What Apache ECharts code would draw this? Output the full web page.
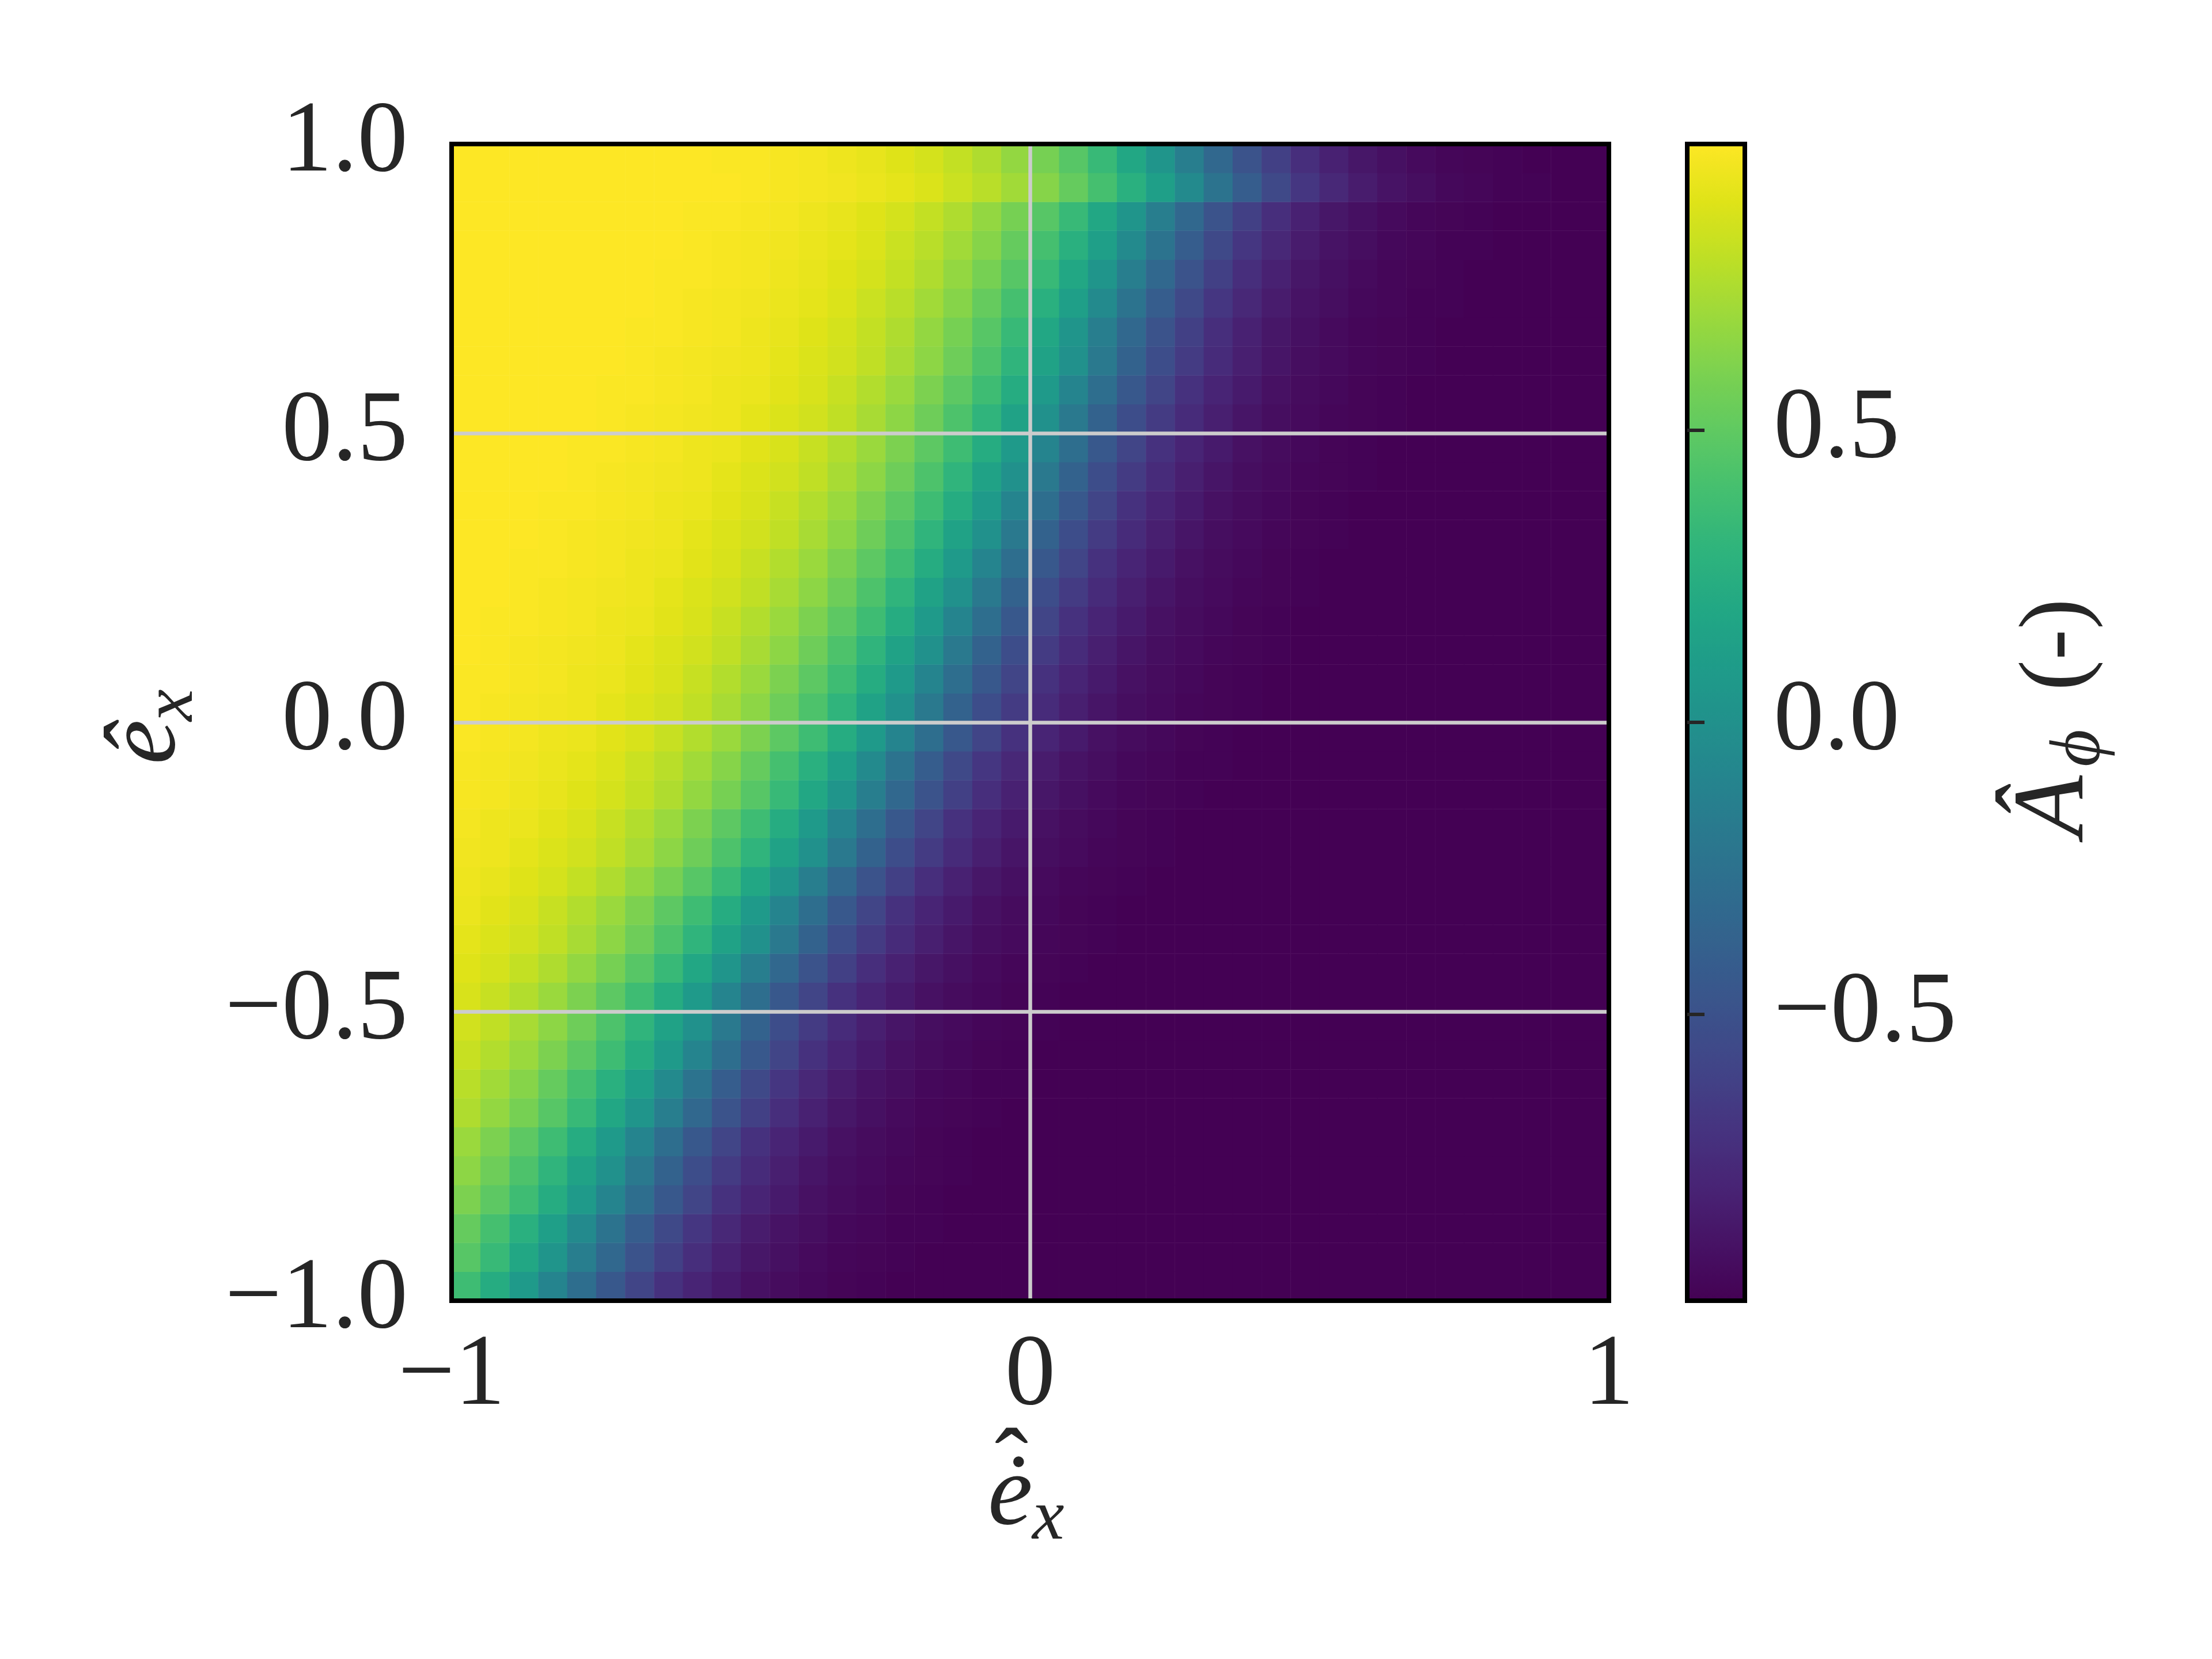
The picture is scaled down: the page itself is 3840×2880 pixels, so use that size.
<!DOCTYPE html>
<html>
<head>
<meta charset="utf-8">
<title>A_phi map</title>
<script src="https://cdn.jsdelivr.net/npm/echarts@6.0.0/dist/echarts.min.js"></script>
<style>
  html, body { margin: 0; padding: 0; background: #ffffff; }
  #chart { width: 3840px; height: 2880px; }
</style>
</head>
<body>
<div id="chart"></div>
<script>
// cell centres of the map (x = e_x dot, y = e_x), 40 x 40 cells of 0.05
const xCells = [-0.975,-0.925,-0.875,-0.825,-0.775,-0.725,-0.675,-0.625,-0.575,-0.525,-0.475,-0.425,-0.375,-0.325,-0.275,-0.225,-0.175,-0.125,-0.075,-0.025,
  0.025,0.075,0.125,0.175,0.225,0.275,0.325,0.375,0.425,0.475,0.525,0.575,0.625,0.675,0.725,0.775,0.825,0.875,0.925,0.975]
const yCells = [-0.975,-0.925,-0.875,-0.825,-0.775,-0.725,-0.675,-0.625,-0.575,-0.525,-0.475,-0.425,-0.375,-0.325,-0.275,-0.225,-0.175,-0.125,-0.075,-0.025,
  0.025,0.075,0.125,0.175,0.225,0.275,0.325,0.375,0.425,0.475,0.525,0.575,0.625,0.675,0.725,0.775,0.825,0.875,0.925,0.975]

// A_phi, one row per yCells entry (bottom row first), one value per xCells entry
const aPhi = [
  [0.37,0.23,0.08,-0.10,-0.28,-0.45,-0.59,-0.71,-0.79,-0.85,-0.90,-0.93,-0.95,-0.97,-0.98,-0.99,-0.99,-0.99,-0.99,-0.99,-0.99,-0.99,-0.99,-0.99,-0.99,-0.99,-0.99,-0.99,-0.99,-0.99,-0.99,-0.99,-0.99,-0.99,-0.99,-0.99,-0.99,-0.99,-0.99,-0.99],
  [0.47,0.34,0.19,0.04,-0.15,-0.33,-0.49,-0.62,-0.73,-0.81,-0.87,-0.91,-0.94,-0.96,-0.97,-0.98,-0.99,-0.99,-0.99,-0.99,-0.99,-0.99,-0.99,-0.99,-0.99,-0.99,-0.99,-0.99,-0.99,-0.99,-0.99,-0.99,-0.99,-0.99,-0.99,-0.99,-0.99,-0.99,-0.99,-0.99],
  [0.52,0.40,0.26,0.12,-0.05,-0.24,-0.41,-0.56,-0.68,-0.77,-0.84,-0.89,-0.92,-0.95,-0.96,-0.98,-0.98,-0.99,-0.99,-0.99,-0.99,-0.99,-0.99,-0.99,-0.99,-0.99,-0.99,-0.99,-0.99,-0.99,-0.99,-0.99,-0.99,-0.99,-0.99,-0.99,-0.99,-0.99,-0.99,-0.99],
  [0.60,0.49,0.37,0.23,0.08,-0.10,-0.28,-0.45,-0.59,-0.71,-0.79,-0.85,-0.90,-0.93,-0.95,-0.97,-0.98,-0.99,-0.99,-0.99,-0.99,-0.99,-0.99,-0.99,-0.99,-0.99,-0.99,-0.99,-0.99,-0.99,-0.99,-0.99,-0.99,-0.99,-0.99,-0.99,-0.99,-0.99,-0.99,-0.99],
  [0.65,0.55,0.43,0.30,0.15,0.00,-0.19,-0.37,-0.53,-0.65,-0.75,-0.82,-0.88,-0.92,-0.94,-0.96,-0.97,-0.98,-0.99,-0.99,-0.99,-0.99,-0.99,-0.99,-0.99,-0.99,-0.99,-0.99,-0.99,-0.99,-0.99,-0.99,-0.99,-0.99,-0.99,-0.99,-0.99,-0.99,-0.99,-0.99],
  [0.69,0.60,0.49,0.37,0.23,0.08,-0.10,-0.28,-0.45,-0.59,-0.71,-0.79,-0.85,-0.90,-0.93,-0.95,-0.97,-0.98,-0.99,-0.99,-0.99,-0.99,-0.99,-0.99,-0.99,-0.99,-0.99,-0.99,-0.99,-0.99,-0.99,-0.99,-0.99,-0.99,-0.99,-0.99,-0.99,-0.99,-0.99,-0.99],
  [0.75,0.67,0.58,0.47,0.34,0.19,0.04,-0.15,-0.33,-0.49,-0.62,-0.73,-0.81,-0.87,-0.91,-0.94,-0.96,-0.97,-0.98,-0.99,-0.99,-0.99,-0.99,-0.99,-0.99,-0.99,-0.99,-0.99,-0.99,-0.99,-0.99,-0.99,-0.99,-0.99,-0.99,-0.99,-0.99,-0.99,-0.99,-0.99],
  [0.78,0.71,0.63,0.52,0.40,0.26,0.12,-0.05,-0.24,-0.41,-0.56,-0.68,-0.77,-0.84,-0.89,-0.92,-0.95,-0.96,-0.98,-0.98,-0.99,-0.99,-0.99,-0.99,-0.99,-0.99,-0.99,-0.99,-0.99,-0.99,-0.99,-0.99,-0.99,-0.99,-0.99,-0.99,-0.99,-0.99,-0.99,-0.99],
  [0.82,0.76,0.69,0.60,0.49,0.37,0.23,0.08,-0.10,-0.28,-0.45,-0.59,-0.71,-0.79,-0.85,-0.90,-0.93,-0.95,-0.97,-0.98,-0.99,-0.99,-0.99,-0.99,-0.99,-0.99,-0.99,-0.99,-0.99,-0.99,-0.99,-0.99,-0.99,-0.99,-0.99,-0.99,-0.99,-0.99,-0.99,-0.99],
  [0.85,0.80,0.73,0.65,0.55,0.43,0.30,0.15,0.00,-0.19,-0.37,-0.53,-0.65,-0.75,-0.82,-0.88,-0.92,-0.94,-0.96,-0.97,-0.98,-0.99,-0.99,-0.99,-0.99,-0.99,-0.99,-0.99,-0.99,-0.99,-0.99,-0.99,-0.99,-0.99,-0.99,-0.99,-0.99,-0.99,-0.99,-0.99],
  [0.87,0.82,0.76,0.69,0.60,0.49,0.37,0.23,0.08,-0.10,-0.28,-0.45,-0.59,-0.71,-0.79,-0.85,-0.90,-0.93,-0.95,-0.97,-0.98,-0.99,-0.99,-0.99,-0.99,-0.99,-0.99,-0.99,-0.99,-0.99,-0.99,-0.99,-0.99,-0.99,-0.99,-0.99,-0.99,-0.99,-0.99,-0.99],
  [0.89,0.86,0.81,0.75,0.67,0.58,0.47,0.34,0.19,0.04,-0.15,-0.33,-0.49,-0.62,-0.73,-0.81,-0.87,-0.91,-0.94,-0.96,-0.97,-0.98,-0.99,-0.99,-0.99,-0.99,-0.99,-0.99,-0.99,-0.99,-0.99,-0.99,-0.99,-0.99,-0.99,-0.99,-0.99,-0.99,-0.99,-0.99],
  [0.91,0.88,0.85,0.80,0.73,0.65,0.55,0.43,0.30,0.15,0.00,-0.19,-0.37,-0.53,-0.65,-0.75,-0.82,-0.88,-0.92,-0.94,-0.96,-0.97,-0.98,-0.99,-0.99,-0.99,-0.99,-0.99,-0.99,-0.99,-0.99,-0.99,-0.99,-0.99,-0.99,-0.99,-0.99,-0.99,-0.99,-0.99],
  [0.93,0.90,0.87,0.82,0.76,0.69,0.60,0.49,0.37,0.23,0.08,-0.10,-0.28,-0.45,-0.59,-0.71,-0.79,-0.85,-0.90,-0.93,-0.95,-0.97,-0.98,-0.99,-0.99,-0.99,-0.99,-0.99,-0.99,-0.99,-0.99,-0.99,-0.99,-0.99,-0.99,-0.99,-0.99,-0.99,-0.99,-0.99],
  [0.94,0.92,0.89,0.86,0.81,0.75,0.67,0.58,0.47,0.34,0.19,0.04,-0.15,-0.33,-0.49,-0.62,-0.73,-0.81,-0.87,-0.91,-0.94,-0.96,-0.97,-0.98,-0.99,-0.99,-0.99,-0.99,-0.99,-0.99,-0.99,-0.99,-0.99,-0.99,-0.99,-0.99,-0.99,-0.99,-0.99,-0.99],
  [0.95,0.94,0.91,0.88,0.85,0.80,0.73,0.65,0.55,0.43,0.30,0.15,0.00,-0.19,-0.37,-0.53,-0.65,-0.75,-0.82,-0.88,-0.92,-0.94,-0.96,-0.97,-0.98,-0.99,-0.99,-0.99,-0.99,-0.99,-0.99,-0.99,-0.99,-0.99,-0.99,-0.99,-0.99,-0.99,-0.99,-0.99],
  [0.96,0.94,0.93,0.90,0.87,0.82,0.76,0.69,0.60,0.49,0.37,0.23,0.08,-0.10,-0.28,-0.45,-0.59,-0.71,-0.79,-0.85,-0.90,-0.93,-0.95,-0.97,-0.98,-0.99,-0.99,-0.99,-0.99,-0.99,-0.99,-0.99,-0.99,-0.99,-0.99,-0.99,-0.99,-0.99,-0.99,-0.99],
  [0.97,0.96,0.94,0.92,0.89,0.86,0.81,0.75,0.67,0.58,0.47,0.34,0.19,0.04,-0.15,-0.33,-0.49,-0.62,-0.73,-0.81,-0.87,-0.91,-0.94,-0.96,-0.97,-0.98,-0.99,-0.99,-0.99,-0.99,-0.99,-0.99,-0.99,-0.99,-0.99,-0.99,-0.99,-0.99,-0.99,-0.99],
  [0.97,0.96,0.95,0.93,0.91,0.88,0.83,0.78,0.71,0.63,0.52,0.40,0.26,0.12,-0.05,-0.24,-0.41,-0.56,-0.68,-0.77,-0.84,-0.89,-0.92,-0.95,-0.96,-0.98,-0.98,-0.99,-0.99,-0.99,-0.99,-0.99,-0.99,-0.99,-0.99,-0.99,-0.99,-0.99,-0.99,-0.99],
  [0.98,0.97,0.96,0.94,0.93,0.90,0.87,0.82,0.76,0.69,0.60,0.49,0.37,0.23,0.08,-0.10,-0.28,-0.45,-0.59,-0.71,-0.79,-0.85,-0.90,-0.93,-0.95,-0.97,-0.98,-0.99,-0.99,-0.99,-0.99,-0.99,-0.99,-0.99,-0.99,-0.99,-0.99,-0.99,-0.99,-0.99],
  [0.98,0.97,0.96,0.95,0.94,0.91,0.88,0.85,0.80,0.73,0.65,0.55,0.43,0.30,0.15,0.00,-0.19,-0.37,-0.53,-0.65,-0.75,-0.82,-0.88,-0.92,-0.94,-0.96,-0.97,-0.98,-0.99,-0.99,-0.99,-0.99,-0.99,-0.99,-0.99,-0.99,-0.99,-0.99,-0.99,-0.99],
  [0.98,0.98,0.97,0.96,0.94,0.93,0.90,0.87,0.82,0.76,0.69,0.60,0.49,0.37,0.23,0.08,-0.10,-0.28,-0.45,-0.59,-0.71,-0.79,-0.85,-0.90,-0.93,-0.95,-0.97,-0.98,-0.99,-0.99,-0.99,-0.99,-0.99,-0.99,-0.99,-0.99,-0.99,-0.99,-0.99,-0.99],
  [0.99,0.98,0.97,0.96,0.95,0.94,0.91,0.88,0.85,0.80,0.73,0.65,0.55,0.43,0.30,0.15,0.00,-0.19,-0.37,-0.53,-0.65,-0.75,-0.82,-0.88,-0.92,-0.94,-0.96,-0.97,-0.98,-0.99,-0.99,-0.99,-0.99,-0.99,-0.99,-0.99,-0.99,-0.99,-0.99,-0.99],
  [0.99,0.98,0.98,0.97,0.96,0.94,0.93,0.90,0.87,0.82,0.76,0.69,0.60,0.49,0.37,0.23,0.08,-0.10,-0.28,-0.45,-0.59,-0.71,-0.79,-0.85,-0.90,-0.93,-0.95,-0.97,-0.98,-0.99,-0.99,-0.99,-0.99,-0.99,-0.99,-0.99,-0.99,-0.99,-0.99,-0.99],
  [0.99,0.99,0.98,0.97,0.96,0.95,0.94,0.91,0.88,0.85,0.80,0.73,0.65,0.55,0.43,0.30,0.15,0.00,-0.19,-0.37,-0.53,-0.65,-0.75,-0.82,-0.88,-0.92,-0.94,-0.96,-0.97,-0.98,-0.99,-0.99,-0.99,-0.99,-0.99,-0.99,-0.99,-0.99,-0.99,-0.99],
  [0.99,0.99,0.98,0.98,0.97,0.96,0.94,0.93,0.90,0.87,0.82,0.76,0.69,0.60,0.49,0.37,0.23,0.08,-0.10,-0.28,-0.45,-0.59,-0.71,-0.79,-0.85,-0.90,-0.93,-0.95,-0.97,-0.98,-0.99,-0.99,-0.99,-0.99,-0.99,-0.99,-0.99,-0.99,-0.99,-0.99],
  [0.99,0.99,0.99,0.98,0.97,0.96,0.95,0.94,0.91,0.88,0.85,0.80,0.73,0.65,0.55,0.43,0.30,0.15,0.00,-0.19,-0.37,-0.53,-0.65,-0.75,-0.82,-0.88,-0.92,-0.94,-0.96,-0.97,-0.98,-0.99,-0.99,-0.99,-0.99,-0.99,-0.99,-0.99,-0.99,-0.99],
  [0.99,0.99,0.99,0.98,0.98,0.97,0.96,0.94,0.93,0.90,0.87,0.82,0.76,0.69,0.60,0.49,0.37,0.23,0.08,-0.10,-0.28,-0.45,-0.59,-0.71,-0.79,-0.85,-0.90,-0.93,-0.95,-0.97,-0.98,-0.99,-0.99,-0.99,-0.99,-0.99,-0.99,-0.99,-0.99,-0.99],
  [0.99,0.99,0.99,0.99,0.98,0.97,0.96,0.95,0.94,0.91,0.88,0.85,0.80,0.73,0.65,0.55,0.43,0.30,0.15,0.00,-0.19,-0.37,-0.53,-0.65,-0.75,-0.82,-0.88,-0.92,-0.94,-0.96,-0.97,-0.98,-0.99,-0.99,-0.99,-0.99,-0.99,-0.99,-0.99,-0.99],
  [0.99,0.99,0.99,0.99,0.98,0.98,0.97,0.96,0.94,0.93,0.90,0.87,0.82,0.76,0.69,0.60,0.49,0.37,0.23,0.08,-0.10,-0.28,-0.45,-0.59,-0.71,-0.79,-0.85,-0.90,-0.93,-0.95,-0.97,-0.98,-0.99,-0.99,-0.99,-0.99,-0.99,-0.99,-0.99,-0.99],
  [0.99,0.99,0.99,0.99,0.99,0.98,0.97,0.96,0.95,0.94,0.91,0.88,0.85,0.80,0.73,0.65,0.55,0.43,0.30,0.15,0.00,-0.19,-0.37,-0.53,-0.65,-0.75,-0.82,-0.88,-0.92,-0.94,-0.96,-0.97,-0.98,-0.99,-0.99,-0.99,-0.99,-0.99,-0.99,-0.99],
  [0.99,0.99,0.99,0.99,0.99,0.98,0.98,0.97,0.96,0.94,0.93,0.90,0.87,0.82,0.76,0.69,0.60,0.49,0.37,0.23,0.08,-0.10,-0.28,-0.45,-0.59,-0.71,-0.79,-0.85,-0.90,-0.93,-0.95,-0.97,-0.98,-0.99,-0.99,-0.99,-0.99,-0.99,-0.99,-0.99],
  [0.99,0.99,0.99,0.99,0.99,0.99,0.98,0.97,0.96,0.95,0.94,0.91,0.88,0.85,0.80,0.73,0.65,0.55,0.43,0.30,0.15,0.00,-0.19,-0.37,-0.53,-0.65,-0.75,-0.82,-0.88,-0.92,-0.94,-0.96,-0.97,-0.98,-0.99,-0.99,-0.99,-0.99,-0.99,-0.99],
  [0.99,0.99,0.99,0.99,0.99,0.99,0.98,0.98,0.97,0.96,0.94,0.92,0.89,0.86,0.81,0.75,0.67,0.58,0.47,0.34,0.19,0.04,-0.15,-0.33,-0.49,-0.62,-0.73,-0.81,-0.87,-0.91,-0.94,-0.96,-0.97,-0.98,-0.99,-0.99,-0.99,-0.99,-0.99,-0.99],
  [0.99,0.99,0.99,0.99,0.99,0.99,0.99,0.98,0.97,0.96,0.95,0.93,0.91,0.88,0.83,0.78,0.71,0.63,0.52,0.40,0.26,0.12,-0.05,-0.24,-0.41,-0.56,-0.68,-0.77,-0.84,-0.89,-0.92,-0.95,-0.96,-0.98,-0.98,-0.99,-0.99,-0.99,-0.99,-0.99],
  [0.99,0.99,0.99,0.99,0.99,0.99,0.99,0.98,0.98,0.97,0.96,0.94,0.92,0.89,0.86,0.81,0.75,0.67,0.58,0.47,0.34,0.19,0.04,-0.15,-0.33,-0.49,-0.62,-0.73,-0.81,-0.87,-0.91,-0.94,-0.96,-0.97,-0.98,-0.99,-0.99,-0.99,-0.99,-0.99],
  [0.99,0.99,0.99,0.99,0.99,0.99,0.99,0.99,0.98,0.97,0.96,0.95,0.93,0.91,0.88,0.83,0.78,0.71,0.63,0.52,0.40,0.26,0.12,-0.05,-0.24,-0.41,-0.56,-0.68,-0.77,-0.84,-0.89,-0.92,-0.95,-0.96,-0.98,-0.98,-0.99,-0.99,-0.99,-0.99],
  [0.99,0.99,0.99,0.99,0.99,0.99,0.99,0.99,0.98,0.98,0.97,0.96,0.94,0.92,0.89,0.86,0.81,0.75,0.67,0.58,0.47,0.34,0.19,0.04,-0.15,-0.33,-0.49,-0.62,-0.73,-0.81,-0.87,-0.91,-0.94,-0.96,-0.97,-0.98,-0.99,-0.99,-0.99,-0.99],
  [0.99,0.99,0.99,0.99,0.99,0.99,0.99,0.99,0.99,0.99,0.98,0.97,0.96,0.95,0.93,0.91,0.88,0.83,0.78,0.71,0.63,0.52,0.40,0.26,0.12,-0.05,-0.24,-0.41,-0.56,-0.68,-0.77,-0.84,-0.89,-0.92,-0.95,-0.96,-0.98,-0.98,-0.99,-0.99],
  [0.99,0.99,0.99,0.99,0.99,0.99,0.99,0.99,0.99,0.98,0.98,0.97,0.96,0.94,0.92,0.89,0.86,0.81,0.75,0.67,0.58,0.47,0.34,0.19,0.04,-0.15,-0.33,-0.49,-0.62,-0.73,-0.81,-0.87,-0.91,-0.94,-0.96,-0.97,-0.98,-0.99,-0.99,-0.99]
]

const xTickValues = [-1, 0, 1]
const xTickLabels = ['\u22121', '0', '1']
const yTickValues = [-1, -0.5, 0, 0.5, 1]
const yTickLabels = ['\u22121.0', '\u22120.5', '0.0', '0.5', '1.0']
const cbTickValues = [-0.5, 0, 0.5]
const cbTickLabels = ['\u22120.5', '0.0', '0.5']
const cbMin = -0.99
const cbMax = 0.99

const viridis = ['#440154','#471365','#482475','#463480','#414487','#3b528b','#355f8d','#2f6c8e','#2a788e','#25848e',
  '#21918c','#1e9c89','#22a884','#2fb47c','#44bf70','#5ec962','#7ad151','#9bd93c','#bddf26','#dfe318','#fde725']

const FONT = '"Liberation Serif", "DejaVu Serif", serif'
const INK = '#262626'
const FS = 175          // tick label size, px
const SUB = 125         // subscript size, px
const MID = 0.3375      // canvas 'middle' line above the baseline, in em

const plot = { left: 784, top: 250, width: 2009, height: 2008 }
const cbar = { left: 2929, top: 250, width: 100, height: 2008 }

const data = []
aPhi.forEach((row, yi) => row.forEach((v, xi) => data.push([xi, yi, v])))

// one glyph run, placed by its baseline (bx, by) in the label's own frame
function glyph(text, bx, by, size, italic, align) {
  return {
    type: 'text', x: bx, y: by - MID * size, silent: true,
    style: {
      text, fill: INK,
      font: (italic ? 'italic ' : '') + size + 'px ' + FONT,
      align: align || 'left', verticalAlign: 'middle',
      textAlign: align || 'left', textVerticalAlign: 'middle'
    }
  }
}

function pick(values, labels) {
  return v => {
    const i = values.findIndex(t => Math.abs(t - v) < 1e-9)
    return i < 0 ? '' : labels[i]
  }
}

const tickLabel = { fontFamily: FONT, fontSize: FS, color: INK }

const option = {
  backgroundColor: '#ffffff',
  animation: false,
  grid: [
    { ...plot },
    { ...plot, show: true, z: 10, borderColor: '#000000', borderWidth: 8, backgroundColor: 'transparent' },
    { ...cbar, show: true, z: 10, borderColor: '#000000', borderWidth: 8, backgroundColor: 'transparent' }
  ],
  xAxis: [
    { type: 'category', gridIndex: 0, data: xCells, show: false },
    {
      type: 'value', gridIndex: 1, min: -1, max: 1, interval: 1, z: 5,
      axisLine: { show: false }, axisTick: { show: false },
      splitLine: { show: true, lineStyle: { color: '#cccccc', width: 6.5 } },
      axisLabel: { ...tickLabel, margin: 46, formatter: pick(xTickValues, xTickLabels) }
    },
    { type: 'value', gridIndex: 2, min: 0, max: 1, show: false }
  ],
  yAxis: [
    { type: 'category', gridIndex: 0, data: yCells, show: false },
    {
      type: 'value', gridIndex: 1, min: -1, max: 1, interval: 0.5, z: 5,
      axisLine: { show: false }, axisTick: { show: false },
      splitLine: { show: true, lineStyle: { color: '#cccccc', width: 6.5 } },
      axisLabel: { ...tickLabel, margin: 76, formatter: pick(yTickValues, yTickLabels) }
    },
    {
      type: 'value', gridIndex: 2, position: 'right', min: cbMin, max: cbMax, z: 11,
      axisLine: { show: false },
      axisTick: { show: true, length: 30, lineStyle: { color: INK, width: 6 }, customValues: cbTickValues },
      splitLine: { show: false },
      axisLabel: { ...tickLabel, margin: 50, customValues: cbTickValues, formatter: pick(cbTickValues, cbTickLabels) }
    }
  ],
  visualMap: {
    type: 'continuous', seriesIndex: 0, min: cbMin, max: cbMax,
    calculable: false, hoverLink: false, orient: 'vertical', padding: 0,
    left: cbar.left, top: cbar.top, itemWidth: cbar.width, itemHeight: cbar.height,
    inRange: { color: viridis }
  },
  series: [{
    type: 'heatmap', xAxisIndex: 0, yAxisIndex: 0, data,
    silent: true, emphasis: { disabled: true }, progressive: 0
  }],
  graphic: [
    // x label: e dot-hat, subscript x
    { type: 'group', x: 1715, y: 2658, silent: true, children: [
      glyph('\u0117', 0, 0, FS, true),
      glyph('x', 77, 22, SUB, true),
      glyph('\u02c6', 41, -44, FS, false, 'center')
    ] },
    // y label: e hat, subscript x (reads upwards)
    { type: 'group', x: 315, y: 1327, rotation: Math.PI / 2, silent: true, children: [
      glyph('\u00ea', 0, 0, FS, true),
      glyph('x', 75, 27, SUB, true)
    ] },
    // colour bar label: A hat, subscript phi, (-)
    { type: 'group', x: 3628, y: 1453, rotation: Math.PI / 2, silent: true, children: [
      glyph('\u00c2', 0, 0, FS, true),
      glyph('\u03d5', 122, 25, SUB, true),
      glyph('(-)', 254, 0, 160, false)
    ] }
  ]
}

const chart = echarts.init(document.getElementById('chart'))
chart.setOption(option)
</script>
</body>
</html>
